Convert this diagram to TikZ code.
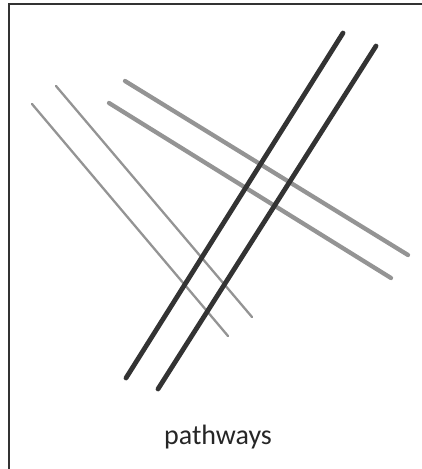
\documentclass[tikz,border=0pt]{standalone}
\usepackage{fontspec}
\setmainfont{Carlito}
\usepackage{tikz}

\begin{document}
\begin{tikzpicture}[x=1pt, y=-1pt,
    thinpath/.style={line width=2.3pt, color=black!42, line cap=round},
    midpath/.style={line width=4.3pt, color=black!42, line cap=round},
    darkpath/.style={line width=4.8pt, color=black!80, line cap=round}]
                    \useasboundingbox (0,0) rectangle (421,469);
                    % Frame
                    \draw[line width=2pt, black!80] (9,480) -- (9,3.5) -- (430,3.5);
                    % Thin lines
                    \draw[thinpath] (32,104) -- (228,336);
                    \draw[thinpath] (56,86) -- (252,317);
                    % Mid lines
                    \draw[midpath] (125,81) -- (408,255);
                    \draw[midpath] (109,103) -- (391,278);
                    % Dark lines
                    \draw[darkpath] (126,378) -- (343,33);
                    \draw[darkpath] (158,389) -- (376,46);
                    % Label
                    \node[font=\fontsize{28}{32}\selectfont, text=black!85] (label) at (218,437) {pathways};
                \end{tikzpicture}
\end{document}
